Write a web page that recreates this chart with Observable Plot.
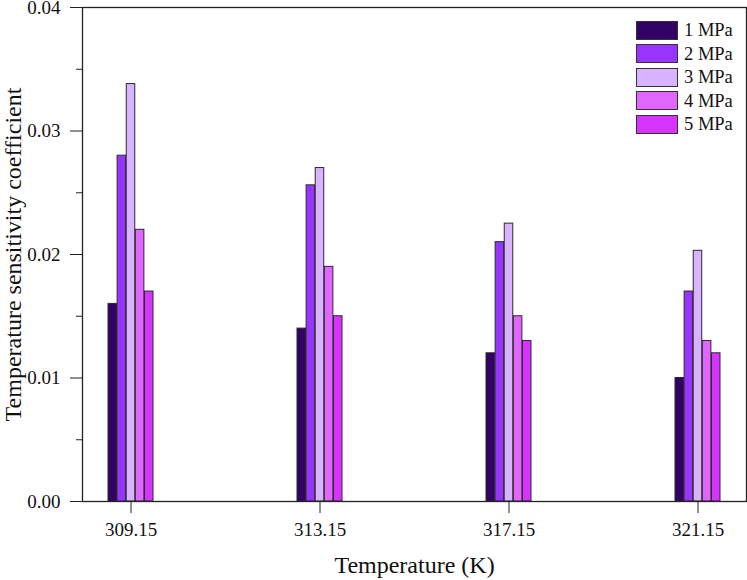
<!DOCTYPE html>
<html><head><meta charset="utf-8">
<script src="https://cdn.jsdelivr.net/npm/d3@7"></script>
<script src="https://cdn.jsdelivr.net/npm/@observablehq/plot@0.6"></script>
<style>
body{margin:0;background:#fff;}
#wrap{position:relative;width:747px;height:580px;font-family:"Liberation Serif","Times New Roman",serif;}
#legend{position:absolute;left:636px;top:21px;}
.item{display:flex;align-items:center;height:18.5px;margin-bottom:5px;}
.sw{width:40px;height:17px;border:1px solid #333;margin-right:6px;box-sizing:content-box;}
.lab{font-size:18.5px;color:#111;line-height:18px;}
</style></head><body><div id="wrap"><div id="legend"></div></div>
<script>
const temperatures = ["309.15","313.15","317.15","321.15"];
const pressures = ["1 MPa","2 MPa","3 MPa","4 MPa","5 MPa"];
const colors = ["#330066","#9933ff","#d9b3ff","#e066ff","#d633ff"];
const s1 = [0.016, 0.014, 0.012, 0.010];
const s2 = [0.028, 0.0256, 0.021, 0.017];
const s3 = [0.0338, 0.027, 0.0225, 0.0203];
const s4 = [0.022, 0.019, 0.015, 0.013];
const s5 = [0.017, 0.015, 0.013, 0.012];
const yTicks = [0, 0.01, 0.02, 0.03, 0.04];
const yMinorTicks = [0.005, 0.015, 0.025, 0.035];

const series = [s1, s2, s3, s4, s5];
const data = [];
series.forEach((s, i) => s.forEach((v, j) => data.push({t: temperatures[j], p: pressures[i], v})));

const W = 747, H = 580, mL = 82, mR = 1, mT = 7, mB = 79;
const padIn = 0.76, padOut = 0.1274;
const n = temperatures.length;
const bandwidth = (W - mL - mR) * (1 - padIn) / (n - padIn + 2 * padOut);
const bw = bandwidth / pressures.length;

const barMarks = pressures.map((p, i) =>
  Plot.barY(data.filter(d => d.p === p), {
    x: "t", y: "v", fill: "p", stroke: "#2a2a2a", strokeWidth: 1,
    insetLeft: i * bw, insetRight: (pressures.length - 1 - i) * bw
  })
);

const chart = Plot.plot({
  width: W, height: H,
  marginLeft: mL, marginRight: mR, marginTop: mT, marginBottom: mB,
  style: {fontFamily: "Liberation Serif, Times New Roman, serif", background: "#fff", color: "#111", overflow: "visible"},
  x: {domain: temperatures, paddingInner: padIn, paddingOuter: padOut},
  y: {domain: [0, 0.04]},
  color: {domain: pressures, range: colors},
  marks: [
    ...barMarks,
    Plot.frame({stroke: "#222", strokeWidth: 1.3}),
    Plot.axisY({ticks: yTicks, tickFormat: d3.format(".2f"), tickSize: 12, tickPadding: 10, fontSize: 19, label: null, stroke: "#222"}),
    Plot.axisY({ticks: yMinorTicks, tickFormat: () => "", tickSize: 6, label: null, stroke: "#222"}),
    Plot.axisY({ticks: [], label: "Temperature sensitivity coefficient", labelAnchor: "center", labelOffset: 79, labelArrow: "none", fontSize: 24}),
    Plot.axisX({anchor: "bottom", tickSize: 12, tickPadding: 9, fontSize: 19, label: null, stroke: "#222"}),
    Plot.axisX({anchor: "bottom", ticks: [], label: "Temperature (K)", labelAnchor: "center", labelOffset: 71, labelArrow: "none", fontSize: 24})
  ]
});
document.getElementById("wrap").prepend(chart);

const leg = document.getElementById("legend");
pressures.forEach((p, i) => {
  const it = document.createElement("div");
  it.className = "item";
  it.innerHTML = `<div class="sw" style="background:${colors[i]}"></div><span class="lab">${p}</span>`;
  leg.appendChild(it);
});
</script></body></html>
